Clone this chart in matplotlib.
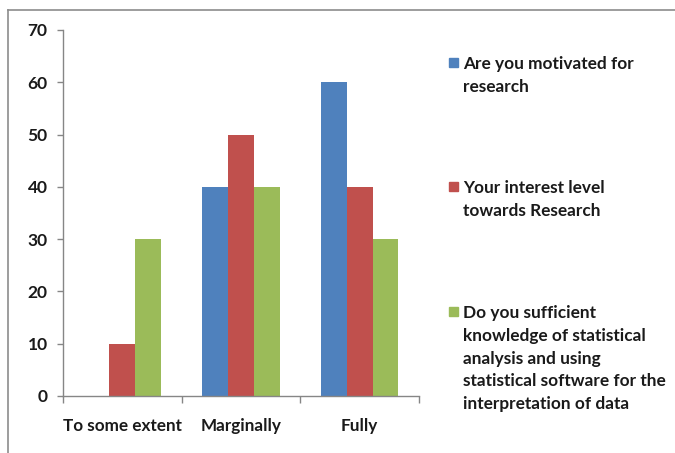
import numpy as np
import matplotlib.pyplot as plt
from matplotlib.lines import Line2D
from matplotlib.patches import Rectangle

# survey responses (%)
categorias = ["To some extent", "Marginally", "Fully"]
motivado = [0, 40, 60]
interes = [10, 50, 40]
conocimiento = [30, 40, 30]

series = [
    "Are you motivated for\nresearch",
    "Your interest level\ntowards Research",
    "Do you sufficient\nknowledge of statistical\nanalysis and using\nstatistical software for the\ninterpretation of data",
]
colores = ["#4F81BD", "#C0504D", "#9BBB59"]

plt.rcParams['font.family'] = ['Lato', 'DejaVu Sans']

W, H = 675, 453
fig = plt.figure(figsize=(W / 100, H / 100), dpi=100)
fig.patch.set_facecolor("white")

# marco gris del grafico
fig.add_artist(Line2D([8 / W, 1], [1 - 10 / H, 1 - 10 / H], color="#8c8c8c", lw=1.2))
fig.add_artist(Line2D([8 / W, 8 / W], [0, 1 - 10 / H], color="#8c8c8c", lw=1.2))

ax = fig.add_axes([63 / W, 1 - 396 / H, (419 - 63) / W, (396 - 30) / H])

x = np.arange(len(categorias))
ancho = 0.218
for i, (vals, col) in enumerate(zip([motivado, interes, conocimiento], colores)):
    ax.bar(x + (i - 1) * ancho, vals, width=ancho, color=col, edgecolor="none")

ax.set_xlim(-0.5, 2.5)
ax.set_ylim(0, 70)
ax.set_yticks(range(0, 71, 10))

for s in ["top", "right"]:
    ax.spines[s].set_visible(False)
for s in ["left", "bottom"]:
    ax.spines[s].set_color("#868686")
    ax.spines[s].set_linewidth(1.0)

ax.tick_params(axis="y", length=4, width=1, color="#868686", pad=7,
               labelsize=12.5, labelcolor="#1a1a1a")
for t in ax.get_yticklabels():
    t.set_fontweight("bold")

ax.set_xticks(x)
ax.set_xticklabels(categorias, fontsize=12.3, fontweight="bold", color="#1a1a1a")
ax.tick_params(axis="x", length=0, pad=16)
ax.set_xticks([-0.5, 0.5, 1.5, 2.5], minor=True)
ax.tick_params(axis="x", which="minor", length=5, width=1, color="#868686")

# leyenda a la derecha
for lbl, col, ytop in zip(series, colores, [63, 187, 312]):
    fig.add_artist(Rectangle((449 / W, 1 - (ytop + 4) / H), 9 / W, 9 / H,
                             color=col, transform=fig.transFigure))
    fig.text(463 / W, 1 - (ytop - 7) / H, lbl, fontsize=12.4, fontweight="bold",
             color="#1a1a1a", va="top", ha="left", linespacing=1.52)

fig.savefig("out.png", dpi=100)
